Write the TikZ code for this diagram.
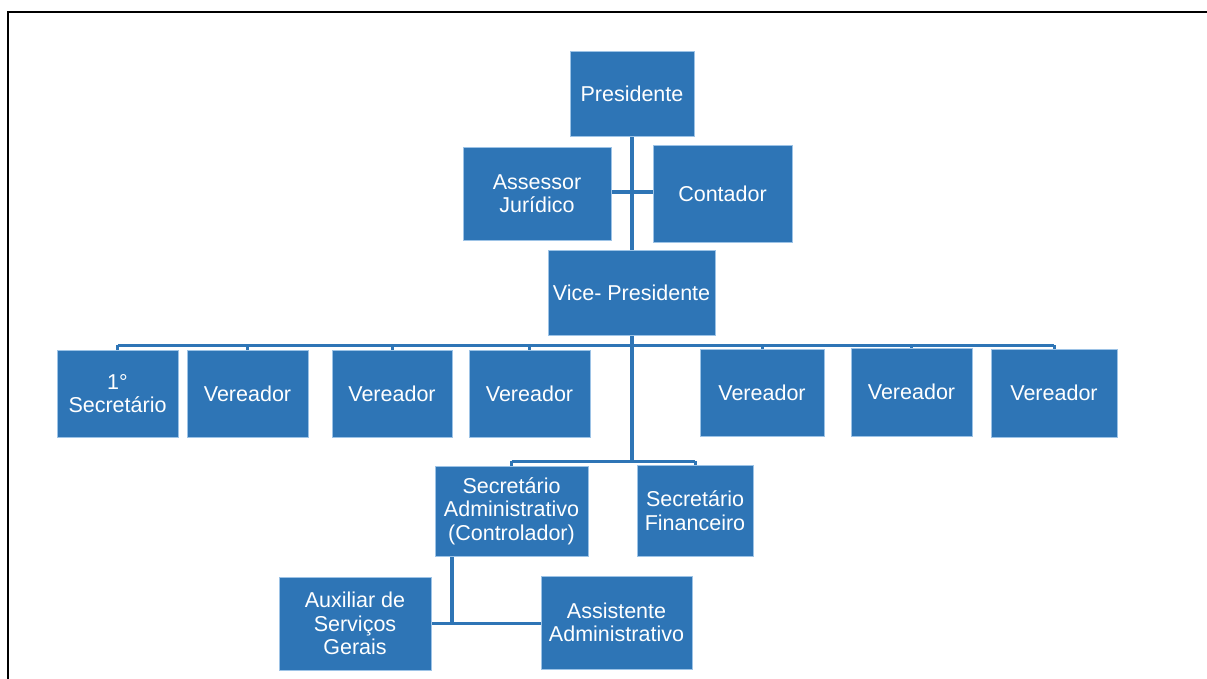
\documentclass[tikz,border=0pt]{standalone}
\usepackage{fontspec}
\setmainfont{Liberation Sans}
\usetikzlibrary{backgrounds}
\definecolor{boxblue}{HTML}{2E75B6}
\definecolor{boxedge}{HTML}{9DC3E6}
\begin{document}
\begin{tikzpicture}[x=1pt,y=-1pt,
  orgbox/.style={fill=boxblue,draw=boxedge,line width=0.8pt,text=white,align=center,
    inner sep=0pt,font=\fontsize{21.5}{23.5}\selectfont},
  link/.style={draw=boxblue,line width=3.5pt},
  thinlink/.style={draw=boxblue,line width=3pt},
  frameline/.style={draw=black,line width=2pt}]
\useasboundingbox (0,0) rectangle (1207,679);
\draw[frameline] (8,680) -- (8,12) -- (1208,12);
\coordinate (barY) at (0,345);
\coordinate (secY) at (0,461);
\coordinate (auxY) at (0,623);
\coordinate (ajY) at (0,192);
% nodes
\node[orgbox,minimum width=124,minimum height=85] (pres) at (632,93.5) {Presidente};
\node[orgbox,minimum width=148,minimum height=93] (assessor) at (537,193.5) {Assessor\\Jurídico};
\node[orgbox,minimum width=139,minimum height=97] (contador) at (722.5,193.5) {Contador};
\node[orgbox,minimum width=167,minimum height=85] (vice) at (631.5,292.5) {Vice- Presidente};
\node[orgbox,minimum width=121,minimum height=87] (sec1) at (117.5,393.5) {1°\\Secretário};
\node[orgbox,minimum width=121,minimum height=87] (v1) at (247.5,393.5) {Vereador};
\node[orgbox,minimum width=120,minimum height=87] (v2) at (392,393.5) {Vereador};
\node[orgbox,minimum width=121,minimum height=87] (v3) at (529.5,393.5) {Vereador};
\node[orgbox,minimum width=124,minimum height=87] (v4) at (762,392.5) {Vereador};
\node[orgbox,minimum width=121,minimum height=88] (v5) at (911.5,392) {Vereador};
\node[orgbox,minimum width=126,minimum height=88] (v6) at (1054,393) {Vereador};
\node[orgbox,minimum width=153,minimum height=90] (secadm) at (511.5,511) {Secretário\\Administrativo\\(Controlador)};
\node[orgbox,minimum width=116,minimum height=91] (secfin) at (695,510.5) {Secretário\\Financeiro};
\node[orgbox,minimum width=152,minimum height=93] (aux) at (355,623.5) {Auxiliar de\\Serviços\\Gerais};
\node[orgbox,minimum width=151,minimum height=93] (assist) at (616.5,622.5) {Assistente\\Administrativo};
% connectors behind the boxes
\begin{scope}[on background layer]
\draw[link] (pres.south) -- (pres.south |- secY);
\draw[link] (assessor.east |- ajY) -- (contador.west |- ajY);
\draw[thinlink] (sec1.north |- barY) -- (v6.north |- barY);
\foreach \b in {sec1,v1,v2,v3,v4,v5,v6}{
  \draw[thinlink] (\b.north) -- (\b.north |- barY);
}
\draw[thinlink] (secadm.north |- secY) -- (secfin.north |- secY);
\draw[thinlink] (secadm.north) -- (secadm.north |- secY);
\draw[thinlink] (secfin.north) -- (secfin.north |- secY);
\coordinate (admdrop) at (452,556);
\draw[link] (admdrop) -- (admdrop |- auxY);
\draw[thinlink] (aux.east |- auxY) -- (assist.west |- auxY);
\end{scope}
\end{tikzpicture}
\end{document}
